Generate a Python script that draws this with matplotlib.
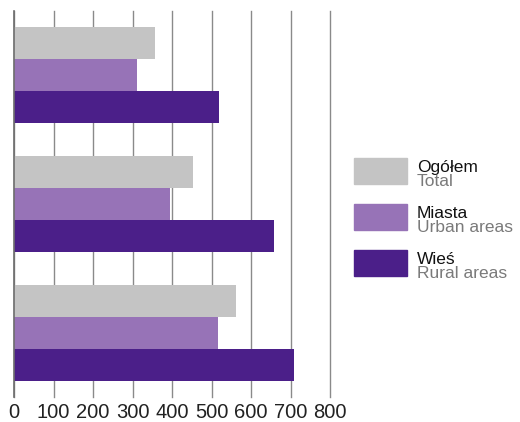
import matplotlib
matplotlib.use("Agg")
import matplotlib.pyplot as plt
import matplotlib.patches as mpatches
import numpy as np

# data, groups listed top to bottom
groups = ["A", "B", "C"]
ogolem = [358, 453, 561]
miasta = [311, 395, 517]
wies = [518, 657, 708]

series_pl = ["Ogółem", "Miasta", "Wieś"]
series_en = ["Total", "Urban areas", "Rural areas"]
colors = ["#c4c4c4", "#9773b7", "#4b1f89"]
xticks = [0, 100, 200, 300, 400, 500, 600, 700, 800]

plt.rcParams['font.family'] = ['Liberation Sans Narrow', 'Liberation Sans', 'DejaVu Sans']

W, H = 520, 422
fig = plt.figure(figsize=(W / 100, H / 100), dpi=100)
ax = fig.add_axes([14 / W, 1 - 397 / H, (330 - 14) / W, (397 - 11) / H])

bar_h = 0.248
ypos = np.arange(len(groups))
for i, vals in enumerate([ogolem, miasta, wies]):
    ax.barh(ypos + (i - 1) * bar_h, vals, height=bar_h, color=colors[i],
            edgecolor='none', zorder=3)

ax.set_ylim(len(groups) - 0.5, -0.5)
ax.set_xlim(0, 800)
ax.set_xticks(xticks)
ax.set_xticklabels([str(t) for t in xticks], fontsize=14.5, color='#222222')
ax.set_yticks([])
ax.tick_params(axis='x', length=0, pad=4)
ax.xaxis.grid(True, color='#8a8a8a', linewidth=1.0, zorder=1)
for gl in ax.get_xgridlines():
    gl.set_clip_on(False)
for s in ['top', 'right', 'bottom']:
    ax.spines[s].set_visible(False)
ax.spines['left'].set_color('#6e6e6e')
ax.spines['left'].set_linewidth(1.2)
ax.spines['left'].set_zorder(4)

# legend drawn by hand: swatch plus two-line label
for i in range(3):
    top = 158 + i * 46
    fig.patches.append(mpatches.Rectangle((354 / W, 1 - (top + 26) / H), 53 / W, 26 / H,
                                          transform=fig.transFigure, color=colors[i]))
    fig.text(417 / W, 1 - (top + 14) / H, series_pl[i], fontsize=12.5,
             color='#111111', va='baseline', ha='left')
    fig.text(417 / W, 1 - (top + 28) / H, series_en[i], fontsize=12.5,
             color='#7a7a7a', va='baseline', ha='left')

fig.savefig("out.png", dpi=100)
